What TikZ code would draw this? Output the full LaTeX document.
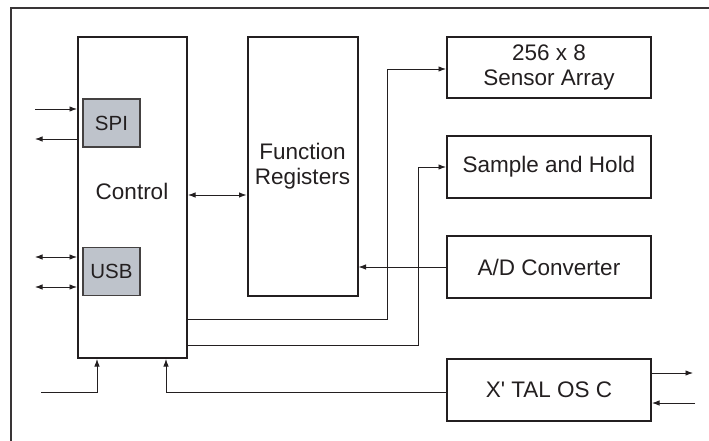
\documentclass[tikz,border=0pt]{standalone}
\usepackage{fontspec}
\setmainfont{Liberation Sans}
\newfontfamily\rawsans{Liberation Sans}[Ligatures=TeXOff]
\usetikzlibrary{arrows.meta}
\definecolor{ink}{HTML}{231F20}
\definecolor{chip}{HTML}{BEC3CB}
\tikzset{
  blk/.style={draw=ink, line width=2pt, rectangle, inner sep=0pt, font=\fontsize{22.5}{25}\selectfont, text=ink, align=center},
  sub/.style={draw=ink!85, line width=1.2pt, fill=chip, rectangle, inner sep=0pt, font=\fontsize{20.5}{22}\selectfont, text=ink},
  lbl/.style={inner sep=0pt, font=\fontsize{22.5}{25}\selectfont, text=ink, align=center},
  conn/.style={draw=ink, line width=0.9pt},
  arr/.style={conn, -{Latex[length=7.5pt,width=5.5pt]}},
  darr/.style={conn, {Latex[length=7.5pt,width=5.5pt]}-{Latex[length=7.5pt,width=5.5pt]}}
}
\begin{document}
\begin{tikzpicture}[x=1pt,y=-1pt]
\useasboundingbox (0,0) rectangle (709,441);
\fill[white] (0,0) rectangle (709,441);
% outer frame (cropped)
\draw[ink!90, line width=1.8pt] (11,441) -- (11,8) -- (709,8);

% blocks
\node[blk, minimum width=109pt, minimum height=321pt] (ctrl) at (132.5,197.5) {};
\node[lbl] (ctrltxt) at (132,191) {Control};
\node[sub, minimum width=57pt, minimum height=48pt] (spi) at (111.5,123) {SPI};
\node[sub, minimum width=57pt, minimum height=48pt] (usb) at (111.5,271.5) {USB};
\node[blk, minimum width=110pt, minimum height=259pt] (func) at (302.5,166.5) {Function\\Registers};
\node[blk, minimum width=204pt, minimum height=61pt] (sens) at (549,67.5) {256 x 8\\Sensor Array};
\node[blk, minimum width=204pt, minimum height=62pt] (sh) at (549,167) {Sample and Hold};
\node[blk, minimum width=204pt, minimum height=62pt] (adc) at (549,267) {A/D Converter};
\node[blk, minimum width=204pt, minimum height=62pt] (xtal) at (549,390) {{\rawsans X' TAL OS C}};

% free ends
\coordinate (spiin) at (35,109);
\coordinate (spiout) at (35,139);
\coordinate (usb1) at (35,257);
\coordinate (usb2) at (35,287);
\coordinate (clkin) at (41,392);
\coordinate (xout) at (693,373);
\coordinate (xin) at (695,403);

% SPI / USB lines
\draw[arr] (spiin) -- (spiin -| ctrl.west);
\draw[arr] (spiout -| ctrl.west) -- (spiout);
\draw[darr] (usb1) -- (usb1 -| ctrl.west);
\draw[darr] (usb2) -- (usb2 -| ctrl.west);

% control <-> function registers
\draw[darr] (ctrl.east |- 0,195) -- (func.west |- 0,195);

% control -> sensor array
\draw[arr] (ctrl.east |- 0,319) -- (387,319) -- (387,69) -- (sens.west |- 0,69);
% control -> sample and hold
\draw[arr] (ctrl.east |- 0,345) -- (418,345) -- (418,167) -- (sh.west);
% A/D -> function registers
\draw[arr] (adc.west) -- (adc.west -| func.east);

% bottom inputs to control
\draw[arr] (clkin) -- (97,392) -- (ctrl.south -| 97,0);
\draw[arr] (xtal.west |- 0,392) -- (166,392) -- (ctrl.south -| 166,0);

% xtal right side
\draw[arr] (xtal.east |- xout) -- (xout);
\draw[arr] (xin) -- (xin -| xtal.east);
\end{tikzpicture}
\end{document}
